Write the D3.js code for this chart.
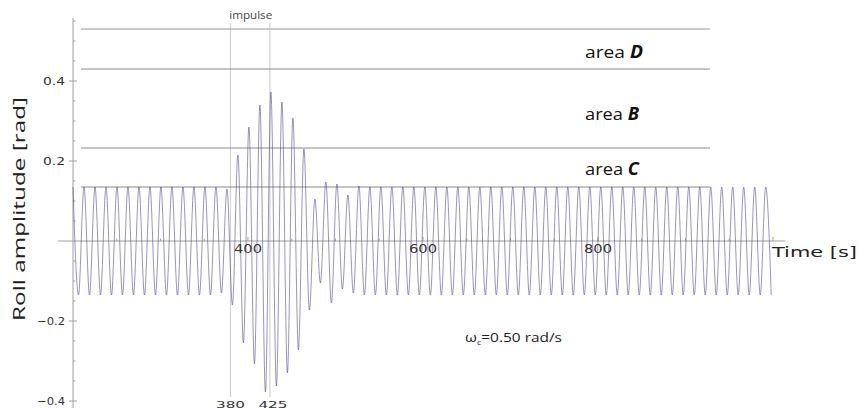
<!DOCTYPE html>
<meta charset="utf-8">
<script src="https://d3js.org/d3.v7.min.js"></script>
<style>
  body { margin: 0; background: #fff; }
  svg { display: block; }
</style>
<div id="my_dataviz"></div>
<script>

// roll frequency (rad/s)
var omega = 0.5;
var tStart = 200;

// positive peaks, one per cycle, starting at t = 200 s
var peaks = [
  0.135, 0.135, 0.135, 0.135, 0.135, 0.135, 0.135, 0.135, 0.135, 0.135,
  0.135, 0.135, 0.135, 0.135, 0.13, 0.215, 0.285, 0.34, 0.3725, 0.3475,
  0.3075, 0.23, 0.105, 0.1475, 0.1425, 0.115, 0.1375, 0.135, 0.135, 0.135,
  0.135, 0.135, 0.135, 0.135, 0.135, 0.135, 0.135, 0.135, 0.135, 0.135,
  0.135, 0.135, 0.135, 0.135, 0.135, 0.135, 0.135, 0.135, 0.135, 0.135,
  0.135, 0.135, 0.135, 0.135, 0.135, 0.135, 0.135, 0.135, 0.135, 0.135,
  0.135, 0.135, 0.135, 0.135
];

// negative peaks, half a cycle after each positive one
var troughs = [
  -0.135, -0.135, -0.135, -0.135, -0.135, -0.135, -0.135, -0.135, -0.135, -0.135,
  -0.135, -0.135, -0.135, -0.13, -0.16, -0.255, -0.3075, -0.3775, -0.3625, -0.33,
  -0.2725, -0.1725, -0.105, -0.155, -0.12, -0.13, -0.135, -0.135, -0.135, -0.135,
  -0.135, -0.135, -0.135, -0.135, -0.135, -0.135, -0.135, -0.135, -0.135, -0.135,
  -0.135, -0.135, -0.135, -0.135, -0.135, -0.135, -0.135, -0.135, -0.135, -0.135,
  -0.135, -0.135, -0.135, -0.135, -0.135, -0.135, -0.135, -0.135, -0.135, -0.135,
  -0.135, -0.135, -0.135, -0.135
];

// area boundaries [rad]
var thresholds = [0.135, 0.2325, 0.43, 0.53];
var areaNames = ["D", "B", "C"];

// impulse start / end [s]
var impulseTimes = [380, 425];

var xTicks = [400, 600, 800];
var yTicks = [-0.4, -0.2, 0.2, 0.4];

var width = 858, height = 411;

var svg = d3.select("#my_dataviz")
  .append("svg")
    .attr("width", width)
    .attr("height", height);

var x = d3.scaleLinear().domain([200, 1000]).range([73, 773]);
var y = d3.scaleLinear().domain([-0.4175, 0.5575]).range([408, 18]);

// build the extremes sequence peak / trough / peak ...
var half = Math.PI / omega;
var pts = [];
peaks.forEach(function(p, i) {
  pts.push([tStart + 2 * i * half, p]);
  if (i < troughs.length) pts.push([tStart + (2 * i + 1) * half, troughs[i]]);
});

// impulse lines
svg.selectAll("line.imp")
  .data(impulseTimes)
  .enter().append("line")
    .attr("x1", function(d) { return x(d); })
    .attr("x2", function(d) { return x(d); })
    .attr("y1", y(0.545))
    .attr("y2", y(-0.39))
    .attr("stroke", "#d2d2d2")
    .attr("stroke-width", 1.2);

// area lines
svg.selectAll("line.thr")
  .data(thresholds)
  .enter().append("line")
    .attr("x1", x(209))
    .attr("x2", x(928))
    .attr("y1", function(d) { return y(d); })
    .attr("y2", function(d) { return y(d); })
    .attr("stroke", function(d, i) { return i == 3 ? "#b8b8b8" : "#8a8a8a"; })
    .attr("stroke-width", function(d, i) { return i == 3 ? 1.4 : 1; });

// axes
svg.append("line")
  .attr("x1", x(183)).attr("x2", x(1014))
  .attr("y1", y(0)).attr("y2", y(0))
  .attr("stroke", "#a0a0a0");
svg.append("line")
  .attr("x1", x(200)).attr("x2", x(200))
  .attr("y1", y(0.5575)).attr("y2", y(-0.4175))
  .attr("stroke", "#a0a0a0");

// minor / major ticks
svg.selectAll("line.xt")
  .data(d3.range(250, 1001, 50))
  .enter().append("line")
    .attr("x1", function(d) { return x(d); })
    .attr("x2", function(d) { return x(d); })
    .attr("y1", y(0))
    .attr("y2", function(d) { return y(0) - (d % 200 == 0 ? 4 : 2.5); })
    .attr("stroke", "#a0a0a0");
svg.selectAll("line.yt")
  .data(d3.range(-8, 12).map(function(i) { return i * 0.05; }).filter(function(v) { return Math.abs(v) > 1e-9; }))
  .enter().append("line")
    .attr("x1", x(200))
    .attr("x2", function(d) { return x(200) + (Math.abs(Math.round(d * 100)) % 20 == 0 ? 4 : 2.5); })
    .attr("y1", function(d) { return y(d); })
    .attr("y2", function(d) { return y(d); })
    .attr("stroke", "#a0a0a0");
svg.selectAll("line.ytl")
  .data(yTicks)
  .enter().append("line")
    .attr("x1", x(200) - 4)
    .attr("x2", x(200))
    .attr("y1", function(d) { return y(d); })
    .attr("y2", function(d) { return y(d); })
    .attr("stroke", "#a0a0a0");

// roll signal
svg.append("path")
  .datum(pts)
  .attr("fill", "none")
  .attr("stroke", "#46388a")
  .attr("stroke-width", 0.55)
  .attr("d", d3.line()
    .x(function(d) { return x(d[0]); })
    .y(function(d) { return y(d[1]); })
    .curve(d3.curveMonotoneX));

// tick labels
svg.selectAll("text.yl")
  .data(yTicks)
  .enter().append("text")
    .attr("x", 65)
    .attr("y", function(d) { return y(d) + 4; })
    .attr("text-anchor", "end")
    .attr("font-family", "DejaVu Sans")
    .attr("font-size", 11)
    .attr("fill", "#333")
    .attr("textLength", function(d) { return d < 0 ? 28 : 22; })
    .attr("lengthAdjust", "spacingAndGlyphs")
    .text(function(d) { return d3.format(".1f")(d); });

svg.selectAll("text.xl")
  .data(xTicks)
  .enter().append("text")
    .attr("x", function(d) { return x(d) - 14; })
    .attr("y", y(0) + 12)
    .attr("font-family", "DejaVu Sans")
    .attr("font-size", 12)
    .attr("fill", "#333")
    .attr("textLength", 28)
    .attr("lengthAdjust", "spacingAndGlyphs")
    .text(function(d) { return d; });

svg.selectAll("text.il")
  .data(impulseTimes)
  .enter().append("text")
    .attr("x", function(d, i) { return (i == 0 ? x(d) : x(d) + 3) - 14.5; })
    .attr("y", 408)
    .attr("font-family", "DejaVu Sans")
    .attr("font-size", 9.5)
    .attr("fill", "#333")
    .attr("textLength", 29)
    .attr("lengthAdjust", "spacingAndGlyphs")
    .text(function(d) { return d; });

svg.append("text")
  .attr("x", x((impulseTimes[0] + impulseTimes[1]) / 2) - 21)
  .attr("y", 19)
  .attr("font-family", "Open Sans")
  .attr("font-size", 11)
  .attr("fill", "#444")
  .attr("textLength", 43)
  .attr("lengthAdjust", "spacingAndGlyphs")
  .text("impulse");

svg.append("text")
  .attr("x", 772)
  .attr("y", 257)
  .attr("font-family", "DejaVu Sans")
  .attr("font-size", 14)
  .attr("fill", "#222")
  .attr("textLength", 85)
  .attr("lengthAdjust", "spacingAndGlyphs")
  .text("Time [s]");

svg.append("text")
  .attr("transform", "translate(25,209) rotate(-90)")
  .attr("text-anchor", "middle")
  .attr("font-family", "Open Sans")
  .attr("font-size", 16)
  .attr("fill", "#222")
  .attr("textLength", 224)
  .attr("lengthAdjust", "spacingAndGlyphs")
  .text("Roll amplitude [rad]");

// area labels
var areaBase = [58, 120, 175];
areaNames.forEach(function(n, i) {
  var t = svg.append("text")
    .attr("x", 585)
    .attr("y", areaBase[i])
    .attr("font-family", "Open Sans")
    .attr("font-size", 17)
    .attr("fill", "#111")
    .attr("textLength", n == "D" ? 58 : 54)
    .attr("lengthAdjust", "spacingAndGlyphs");
  t.append("tspan").text("area ");
  t.append("tspan").attr("font-weight", "bold").attr("font-style", "italic").text(n);
});

// frequency note
var note = svg.append("text")
  .attr("x", 465)
  .attr("y", 342)
  .attr("font-family", "Open Sans")
  .attr("font-size", 12)
  .attr("fill", "#222")
  .attr("textLength", 97)
  .attr("lengthAdjust", "spacingAndGlyphs");
note.append("tspan").text("ω");
note.append("tspan").attr("font-size", 7).attr("dy", 3).text("c");
note.append("tspan").attr("dy", -3).text("=0.50 rad/s");

</script>
